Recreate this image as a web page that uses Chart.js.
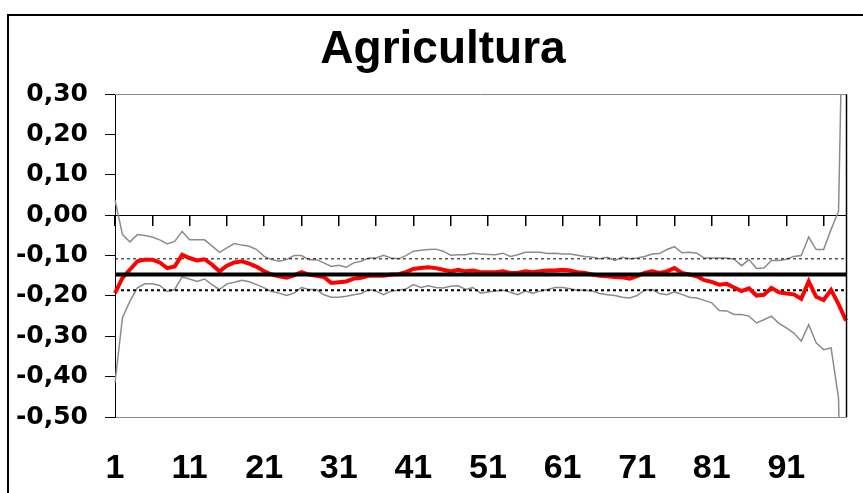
<!DOCTYPE html>
<html>
<head>
<meta charset="utf-8">
<script src="https://cdn.jsdelivr.net/npm/chart.js@4/dist/chart.umd.min.js"></script>
<style>
  html, body { margin: 0; padding: 0; background: #fff; }
  #wrap { position: relative; width: 863px; height: 493px; overflow: hidden; }
  #frame { position: absolute; left: 7px; top: 14px; width: 900px; height: 500px;
           border-left: 2px solid #000; border-top: 2px solid #000; pointer-events: none; }
  canvas { position: absolute; left: 0; top: 0; }
</style>
</head>
<body>
<div id="wrap">
  <canvas id="chart" width="863" height="493"></canvas>
  <div id="frame"></div>
</div>
<script>
// Periods 1..99
const categories = [
  '1','2','3','4','5','6','7','8','9','10','11','12','13','14','15','16','17','18','19','20',
  '21','22','23','24','25','26','27','28','29','30','31','32','33','34','35','36','37','38','39','40',
  '41','42','43','44','45','46','47','48','49','50','51','52','53','54','55','56','57','58','59','60',
  '61','62','63','64','65','66','67','68','69','70','71','72','73','74','75','76','77','78','79','80',
  '81','82','83','84','85','86','87','88','89','90','91','92','93','94','95','96','97','98','99'
];

// Point estimate (red)
const estimate = [
  -0.193,-0.155,-0.135,-0.114,-0.110,-0.110,-0.117,-0.131,-0.127,-0.098,
  -0.106,-0.112,-0.109,-0.122,-0.139,-0.125,-0.117,-0.114,-0.120,-0.128,
  -0.139,-0.147,-0.151,-0.155,-0.149,-0.141,-0.147,-0.150,-0.153,-0.168,
  -0.166,-0.164,-0.157,-0.155,-0.150,-0.150,-0.150,-0.147,-0.146,-0.141,
  -0.133,-0.131,-0.129,-0.131,-0.135,-0.139,-0.135,-0.139,-0.137,-0.141,
  -0.141,-0.141,-0.139,-0.143,-0.143,-0.139,-0.141,-0.139,-0.137,-0.137,
  -0.135,-0.137,-0.141,-0.143,-0.147,-0.150,-0.151,-0.153,-0.154,-0.157,
  -0.151,-0.143,-0.139,-0.143,-0.139,-0.131,-0.143,-0.147,-0.151,-0.161,
  -0.165,-0.172,-0.170,-0.179,-0.188,-0.181,-0.199,-0.197,-0.180,-0.191,
  -0.194,-0.196,-0.207,-0.164,-0.202,-0.210,-0.185,-0.220,-0.261
];

// Upper confidence band (grey)
const upperBand = [
   0.038,-0.048,-0.066,-0.048,-0.050,-0.054,-0.061,-0.071,-0.065,-0.040,
  -0.061,-0.061,-0.061,-0.076,-0.092,-0.081,-0.070,-0.074,-0.077,-0.085,
  -0.102,-0.110,-0.114,-0.110,-0.100,-0.100,-0.110,-0.110,-0.118,-0.127,
  -0.124,-0.129,-0.118,-0.114,-0.106,-0.106,-0.099,-0.106,-0.108,-0.100,
  -0.089,-0.087,-0.085,-0.084,-0.089,-0.099,-0.098,-0.098,-0.094,-0.096,
  -0.097,-0.098,-0.094,-0.102,-0.098,-0.092,-0.092,-0.092,-0.095,-0.094,
  -0.096,-0.096,-0.099,-0.102,-0.104,-0.108,-0.104,-0.112,-0.104,-0.108,
  -0.106,-0.102,-0.096,-0.095,-0.085,-0.078,-0.093,-0.092,-0.094,-0.106,
  -0.106,-0.106,-0.106,-0.109,-0.125,-0.110,-0.132,-0.131,-0.112,-0.112,
  -0.109,-0.102,-0.100,-0.054,-0.085,-0.085,-0.035, 0.010, 0.950
];

// Lower confidence band (grey)
const lowerBand = [
  -0.415,-0.254,-0.213,-0.180,-0.170,-0.170,-0.174,-0.189,-0.184,-0.153,
  -0.158,-0.164,-0.158,-0.172,-0.184,-0.170,-0.166,-0.161,-0.165,-0.172,
  -0.180,-0.189,-0.193,-0.199,-0.193,-0.179,-0.184,-0.184,-0.197,-0.203,
  -0.203,-0.201,-0.197,-0.194,-0.184,-0.188,-0.197,-0.188,-0.186,-0.183,
  -0.172,-0.179,-0.175,-0.179,-0.180,-0.176,-0.175,-0.184,-0.179,-0.193,
  -0.190,-0.188,-0.186,-0.191,-0.197,-0.188,-0.193,-0.188,-0.184,-0.179,
  -0.179,-0.182,-0.186,-0.186,-0.188,-0.194,-0.197,-0.199,-0.203,-0.205,
  -0.199,-0.185,-0.184,-0.194,-0.197,-0.190,-0.196,-0.203,-0.205,-0.211,
  -0.217,-0.236,-0.237,-0.246,-0.246,-0.250,-0.267,-0.259,-0.250,-0.268,
  -0.279,-0.292,-0.312,-0.271,-0.316,-0.333,-0.329,-0.453,-1.470
];

// Reference levels: overall mean and its dotted bounds
const meanLevel = -0.147;
const upperRef = -0.108;
const lowerRef = -0.186;

// Labels shown on the category axis
const xTickLabels = ['1','11','21','31','41','51','61','71','81','91'];

const yTickLabel = v => (Math.round(v * 100) / 100).toFixed(2).replace('.', ',');

// Outline of the plot area's top and right edges
const plotFrame = {
  id: 'plotFrame',
  afterLayout(chart) {
    // let the value-axis labels extend into the left padding without clipping
    chart.scales.y.left = 0;
  },
  afterDraw(chart) {
    const { ctx, chartArea: a } = chart;
    ctx.save();
    ctx.lineWidth = 1;
    ctx.strokeStyle = '#8c8c8c';
    ctx.beginPath();
    ctx.moveTo(a.left, Math.round(a.top) + 0.5);
    ctx.lineTo(a.right, Math.round(a.top) + 0.5);
    ctx.stroke();
    ctx.strokeStyle = '#000';
    ctx.lineWidth = 1.5;
    ctx.beginPath();
    ctx.moveTo(Math.round(a.right) + 0.5, a.top);
    ctx.lineTo(Math.round(a.right) + 0.5, a.bottom);
    ctx.stroke();
    ctx.restore();
  }
};

const flat = level => categories.map(() => level);

new Chart(document.getElementById('chart'), {
  type: 'line',
  data: {
    labels: categories,
    datasets: [
      { label: 'Media', data: flat(meanLevel), borderColor: '#000', borderWidth: 4, order: 0 },
      { label: 'Estimación', data: estimate, borderColor: '#ff0000', borderWidth: 4, order: 1 },
      { label: 'Límite superior media', data: flat(upperRef), borderColor: '#000', borderWidth: 1, borderDash: [3, 3], order: 2 },
      { label: 'Límite inferior media', data: flat(lowerRef), borderColor: '#000', borderWidth: 2, borderDash: [3, 3], order: 2 },
      { label: 'Banda superior', data: upperBand, borderColor: '#8c8c8c', borderWidth: 1.5, order: 3 },
      { label: 'Banda inferior', data: lowerBand, borderColor: '#8c8c8c', borderWidth: 1.5, order: 3 }
    ]
  },
  options: {
    responsive: false,
    animation: false,
    devicePixelRatio: 1,
    elements: { point: { radius: 0, hitRadius: 0 }, line: { tension: 0, fill: false } },
    layout: { autoPadding: false, padding: { left: 40, right: 17, top: 0, bottom: 0 } },
    plugins: {
      legend: { display: false },
      tooltip: { enabled: false },
      title: {
        display: true,
        text: 'Agricultura',
        color: '#000',
        font: { family: 'Liberation Sans', weight: 'bold', size: 46 },
        padding: { top: 23, bottom: 16 }
      }
    },
    scales: {
      x: {
        type: 'category',
        position: 'bottom',
        offset: false,
        grid: { display: false, drawTicks: true, tickLength: 29 },
        border: { display: true, color: '#8c8c8c', width: 1 },
        ticks: {
          autoSkip: false, maxRotation: 0, minRotation: 0, padding: 2,
          color: '#000',
          font: { family: 'Liberation Sans', weight: 'bold', size: 34 },
          callback: function (v) {
            const l = this.getLabelForValue(v);
            return xTickLabels.includes(l) ? l : '';
          }
        },
        afterFit: s => { s.height = 76; }
      },
      x0: {
        type: 'category',
        position: { y: 0 },
        offset: false,
        grid: {
          drawOnChartArea: false, drawTicks: true, tickLength: 10, lineWidth: 1.5,
          color: c => (c.index % 5 === 0 ? '#000' : 'rgba(0,0,0,0)'),
          tickColor: c => (c.index % 5 === 0 ? '#000' : 'rgba(0,0,0,0)')
        },
        border: { display: true, color: '#000', width: 1 },
        ticks: { display: false, autoSkip: false }
      },
      y: {
        type: 'linear',
        position: 'left',
        min: -0.5,
        max: 0.3,
        grid: { drawOnChartArea: false, drawTicks: true, tickLength: 10, color: '#000' },
        border: { display: true, color: '#000', width: 1 },
        ticks: {
          stepSize: 0.1, padding: 17, color: '#000',
          font: { family: 'DejaVu Sans', weight: 'bold', size: 25 },
          callback: v => yTickLabel(v)
        },
        afterFit: s => { s.width = 75; }
      }
    }
  },
  plugins: [plotFrame]
});
</script>
</body>
</html>
